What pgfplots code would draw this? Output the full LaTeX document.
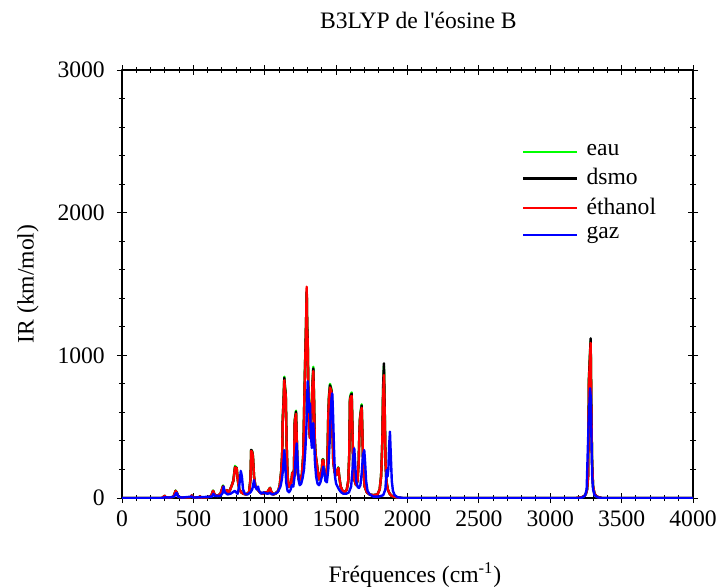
\documentclass[border=0pt]{standalone}
\usepackage{pgfplots}
\usepackage{pgfplotstable}
\usepackage{fontspec}
\setmainfont{Liberation Serif}[Ligatures=TeXOff]
\pgfplotsset{compat=1.18}
\definecolor{cgreen}{RGB}{0,255,0}
\definecolor{cred}{RGB}{255,0,0}
\definecolor{cblue}{RGB}{0,0,255}

\pgfplotstableread{
x eau dsmo eth
0 0 0 0
280 0 0 0
295 12 12 12
300 15 15 15
305 5 5 5
330 2 2 2
360 8 8 8
376 52 51 50
385 35 35 35
395 8 8 8
420 3 3 3
480 5 5 5
488 18 18 18
496 5 5 5
540 3 3 3
546 12 12 12
552 3 3 3
600 5 5 5
625 15 15 15
638 52 51 50
650 20 20 20
670 15 15 15
690 30 30 30
700 60 60 60
708 88 84 80
716 50 50 50
728 40 40 40
735 55 55 55
745 35 35 35
758 60 60 60
770 92 91 90
780 123 121 120
792 225 218 215
798 205 202 200
803 215 212 210
812 120 120 120
822 60 60 60
835 40 40 40
850 30 30 30
870 25 25 25
890 40 40 40
900 133 131 130
905 335 338 330
912 328 324 320
917 297 294 290
925 150 150 150
935 80 80 80
950 60 60 60
965 40 40 40
985 30 30 30
1000 40 40 40
1015 35 35 35
1030 60 60 60
1037 72 71 70
1045 45 45 45
1060 25 25 25
1075 30 30 30
1083 40 40 40
1095 50 50 50
1105 90 90 90
1115 185 182 180
1122 308 304 300
1126 560 555 547
1131 667 660 650
1137 850 842 825
1142 780 770 760
1147 740 731 722
1153 390 385 380
1160 150 150 150
1168 80 80 80
1178 80 80 80
1186 110 110 110
1193 180 178 177
1200 150 150 150
1205 205 202 200
1210 548 541 535
1214 574 567 560
1219 612 605 590
1224 430 425 420
1230 185 182 180
1238 130 130 130
1248 130 130 130
1260 160 160 160
1270 308 304 300
1277 683 674 666
1282 922 911 900
1287 1120 1125 1100
1291 1290 1295 1300
1294 1440 1450 1481
1297 1230 1214 1200
1301 1114 1100 1087
1306 717 708 700
1311 512 506 500
1316 430 425 420
1322 440 435 430
1328 615 607 600
1334 800 789 780
1340 920 908 890
1345 717 708 700
1350 430 425 420
1356 307 304 300
1364 251 248 245
1372 185 182 180
1380 130 130 130
1390 160 160 160
1400 205 202 200
1405 273 269 266
1410 273 269 266
1416 205 202 200
1425 150 150 150
1432 140 140 140
1438 205 202 200
1445 584 577 570
1450 717 708 700
1457 800 790 775
1463 779 769 760
1469 753 744 735
1474 512 506 500
1480 256 253 250
1490 180 180 180
1500 160 160 160
1508 190 190 190
1515 215 212 210
1522 150 150 150
1532 80 80 80
1545 50 50 50
1560 40 40 40
1575 60 60 60
1585 120 120 120
1592 308 304 300
1597 704 695 687
1603 728 719 710
1609 740 731 715
1614 512 506 500
1620 205 202 200
1630 120 120 120
1640 90 90 90
1650 120 120 120
1658 256 253 250
1663 461 455 450
1667 561 554 547
1673 615 607 600
1679 656 648 632
1684 461 455 450
1690 205 202 200
1700 80 80 80
1715 40 40 40
1735 25 25 25
1760 20 20 20
1790 25 25 25
1805 60 60 60
1815 154 152 150
1820 287 283 280
1824 417 412 407
1829 760 780 700
1835 925 944 862
1840 640 650 600
1846 256 253 250
1852 120 120 120
1862 60 60 60
1875 30 30 30
1890 15 15 15
1920 5 5 5
1960 0 0 0
3180 0 0 0
3220 5 5 5
3240 15 15 15
3250 30 30 30
3258 60 60 60
3265 154 152 150
3271 830 841 800
3277 970 980 950
3283 1100 1119 1087
3288 615 607 600
3293 256 253 250
3300 80 80 80
3310 30 30 30
3325 10 10 10
3360 0 0 0
4000 0 0 0
}\solv

\pgfplotstableread{
x gaz
0 0
280 0
300 5
330 3
365 10
380 35
385 35
392 10
420 3
488 10
500 3
630 10
640 30
650 15
690 15
705 35
712 80
720 40
740 25
760 30
775 40
790 50
800 40
810 30
822 90
832 190
840 150
848 60
860 30
880 25
900 40
912 60
920 100
925 125
932 80
945 60
953 80
960 50
975 30
990 40
1000 35
1020 30
1037 35
1050 25
1070 30
1090 40
1100 60
1110 80
1120 130
1128 200
1137 336
1143 250
1150 110
1160 50
1170 40
1180 55
1190 90
1200 80
1210 160
1217 300
1224 383
1230 250
1238 120
1245 90
1255 100
1265 140
1275 200
1285 350
1292 500
1297 700
1301 820
1306 720
1311 600
1317 664
1323 450
1330 350
1336 450
1340 525
1346 400
1352 250
1360 150
1370 100
1380 90
1390 110
1400 150
1410 220
1418 180
1425 120
1435 110
1445 200
1455 400
1462 600
1468 700
1473 734
1478 600
1485 350
1492 150
1500 100
1510 80
1520 60
1535 40
1550 30
1570 30
1590 40
1605 80
1615 200
1621 300
1627 348
1633 250
1640 120
1650 80
1660 70
1670 90
1680 180
1688 300
1697 336
1703 250
1710 120
1720 50
1735 25
1760 10
1800 10
1830 20
1845 60
1854 196
1860 150
1866 200
1872 380
1877 465
1883 300
1890 120
1898 50
1910 20
1930 5
1970 0
3200 0
3230 5
3245 20
3255 60
3262 301
3268 500
3274 650
3279 769
3284 700
3289 400
3294 150
3300 60
3310 20
3330 5
3360 0
4000 0
}\gaz

\begin{document}
\fontsize{11.8pt}{14pt}\selectfont
\begin{tikzpicture}
\begin{axis}[
  scale only axis,
  width=285.5pt, height=214pt,
  xmin=0, xmax=4000, ymin=0, ymax=3000,
  xtick distance=500, ytick distance=1000,
  minor x tick num=4, minor y tick num=4,
  tick align=center,
  major tick length=5pt, minor tick length=3pt,
  every tick/.style={black, line width=0.5pt},
  axis line style={line width=0.6pt},
  xticklabel style={yshift=0pt},
  yticklabel style={xshift=-2pt},
  /pgf/number format/assume math mode=true,
  /pgf/number format/1000 sep={},
  title={B3LYP de l'éosine B},
  xlabel={Fréquences (cm\textsuperscript{-1})},
  ylabel={IR (km/mol)},
  every axis title/.style={at={(axis description cs:0.519,1.117)}, anchor=center},
  every axis x label/.style={at={(axis description cs:0.513,-0.18)}, anchor=center},
  every axis y label/.style={at={(axis description cs:-0.1646,0.5)}, rotate=90, anchor=center},
  legend style={at={(axis description cs:0.69,0.845)}, anchor=north west, draw=none, fill=none, row sep=0.6pt,
    nodes={inner xsep=4pt}},
  legend cell align=left,
  legend image code/.code={\draw[#1, line width=1.1pt] (0pt,0pt) -- (27pt,0pt);},
  line join=round,
]
\addplot[cgreen, line width=1.2pt] table[x=x, y=eau] {\solv};
\addlegendentry{eau}
\addplot[black, line width=1.2pt] table[x=x, y=dsmo] {\solv};
\addlegendentry{dsmo}
\addplot[cred, line width=1.2pt] table[x=x, y=eth] {\solv};
\addlegendentry{éthanol}
\addplot[cblue, line width=1.2pt] table[x=x, y=gaz] {\gaz};
\addlegendentry{gaz}
\end{axis}
\pgfresetboundingbox
\path[use as bounding box] ([xshift=-61pt,yshift=-44pt]current axis.south west) rectangle ([xshift=12pt,yshift=35pt]current axis.north east);
\end{tikzpicture}
\end{document}
